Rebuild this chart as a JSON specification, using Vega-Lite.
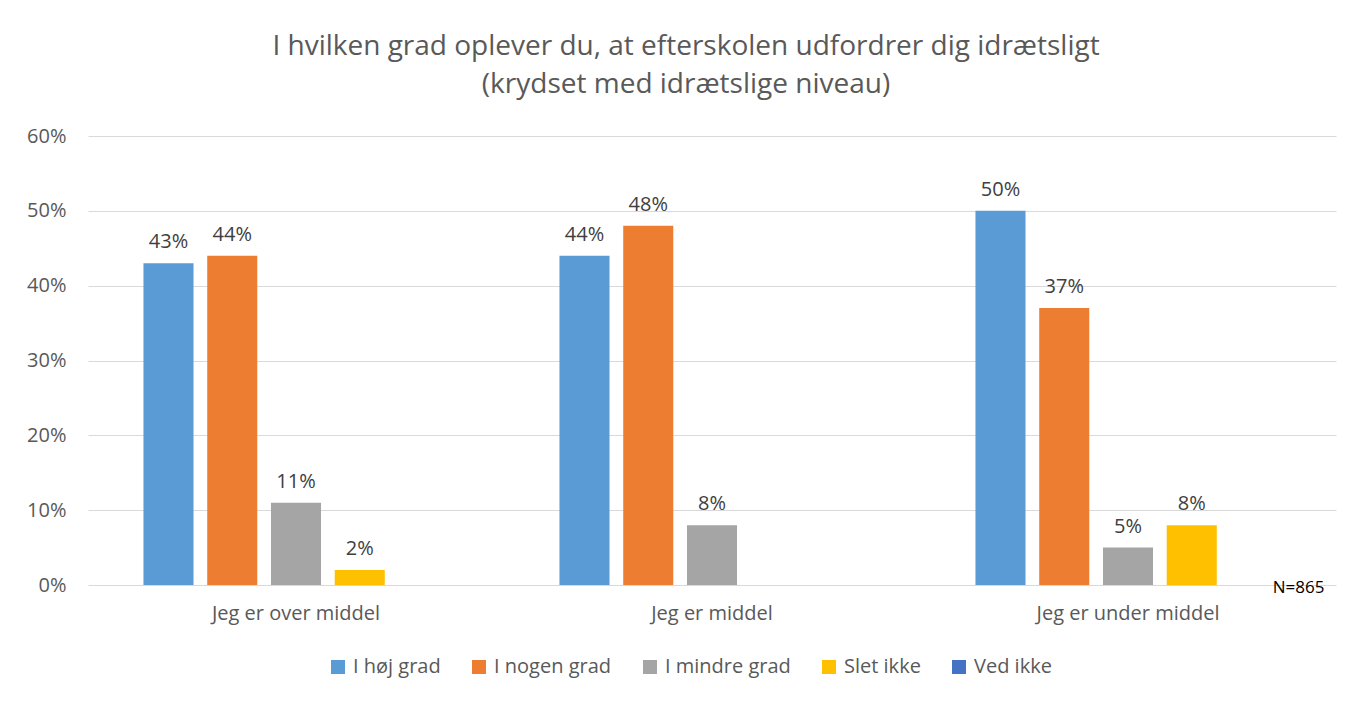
{
  "$schema": "https://vega.github.io/schema/vega-lite/v6.json",
  "autosize": "none",
  "width": 1248,
  "height": 449,
  "padding": {"left": 88, "top": 136, "right": 35, "bottom": 117},
  "background": "white",
  "config": {
    "font": "Open Sans",
    "view": {"stroke": null},
    "axis": {"labelFont": "Open Sans", "labelColor": "#595959", "labelFontSize": 20, "ticks": false, "domain": false, "gridColor": "#d9d9d9", "gridWidth": 1.2, "labelLimit": 0},
    "legend": {"labelFont": "Open Sans", "labelColor": "#595959", "labelFontSize": 20}
  },
  "title": {
    "text": ["I hvilken grad oplever du, at efterskolen udfordrer dig idrætsligt", "(krydset med idrætslige niveau)"],
    "font": "Open Sans",
    "fontSize": 28,
    "fontWeight": "normal",
    "color": "#595959",
    "lineHeight": 38,
    "offset": 27,
    "dx": -26
  },
  "datasets": {
    "main": [
      {"grp": "Jeg er over middel", "serie": "I høj grad", "v": 0.43},
      {"grp": "Jeg er over middel", "serie": "I nogen grad", "v": 0.44},
      {"grp": "Jeg er over middel", "serie": "I mindre grad", "v": 0.11},
      {"grp": "Jeg er over middel", "serie": "Slet ikke", "v": 0.02},
      {"grp": "Jeg er over middel", "serie": "Ved ikke", "v": 0},
      {"grp": "Jeg er middel", "serie": "I høj grad", "v": 0.44},
      {"grp": "Jeg er middel", "serie": "I nogen grad", "v": 0.48},
      {"grp": "Jeg er middel", "serie": "I mindre grad", "v": 0.08},
      {"grp": "Jeg er middel", "serie": "Slet ikke", "v": 0},
      {"grp": "Jeg er middel", "serie": "Ved ikke", "v": 0},
      {"grp": "Jeg er under middel", "serie": "I høj grad", "v": 0.50},
      {"grp": "Jeg er under middel", "serie": "I nogen grad", "v": 0.37},
      {"grp": "Jeg er under middel", "serie": "I mindre grad", "v": 0.05},
      {"grp": "Jeg er under middel", "serie": "Slet ikke", "v": 0.08},
      {"grp": "Jeg er under middel", "serie": "Ved ikke", "v": 0}
    ],
    "note": [
      {"grp": "Jeg er under middel", "serie": "Ved ikke", "v": 0, "label": "N=865"}
    ]
  },
  "encoding": {
    "x": {
      "field": "grp", "type": "nominal",
      "sort": ["Jeg er over middel", "Jeg er middel", "Jeg er under middel"],
      "scale": {"paddingInner": 0, "paddingOuter": 0},
      "axis": {"title": null, "labelAngle": 0, "labelPadding": 18, "grid": false, "labelLimit": 0}
    },
    "xOffset": {
      "field": "serie", "type": "nominal",
      "sort": ["I høj grad", "I nogen grad", "I mindre grad", "Slet ikke", "Ved ikke"],
      "scale": {"paddingInner": 0.215, "paddingOuter": 0.87}
    },
    "y": {
      "field": "v", "type": "quantitative",
      "scale": {"domain": [0, 0.6]},
      "axis": {"title": null, "format": ".0%", "values": [0, 0.1, 0.2, 0.3, 0.4, 0.5, 0.6], "labelOverlap": false, "labelPadding": 22}
    }
  },
  "layer": [
    {
      "data": {"name": "main"},
      "mark": {"type": "bar"},
      "encoding": {
        "color": {
          "field": "serie", "type": "nominal",
          "sort": ["I høj grad", "I nogen grad", "I mindre grad", "Slet ikke", "Ved ikke"],
          "scale": {"domain": ["I høj grad", "I nogen grad", "I mindre grad", "Slet ikke", "Ved ikke"], "range": ["#5B9BD5", "#ED7D31", "#A5A5A5", "#FFC000", "#4472C4"]},
          "legend": {
            "title": null, "orient": "none", "direction": "horizontal",
            "legendX": 240, "legendY": 521,
            "symbolType": "square", "symbolSize": 196, "symbolStrokeWidth": 0,
            "labelOffset": 5, "columnPadding": 28
          }
        }
      }
    },
    {
      "data": {"name": "main"},
      "transform": [{"filter": "datum.v > 0"}],
      "mark": {"type": "text", "baseline": "bottom", "dy": -11, "fontSize": 20, "color": "#404040", "font": "Open Sans"},
      "encoding": {
        "text": {"field": "v", "type": "quantitative", "format": ".0%"}
      }
    },
    {
      "data": {"name": "note"},
      "mark": {"type": "text", "align": "center", "baseline": "middle", "dx": 43, "dy": 3, "fontSize": 17, "color": "#000000", "font": "Open Sans"},
      "encoding": {
        "text": {"field": "label"}
      }
    }
  ]
}
